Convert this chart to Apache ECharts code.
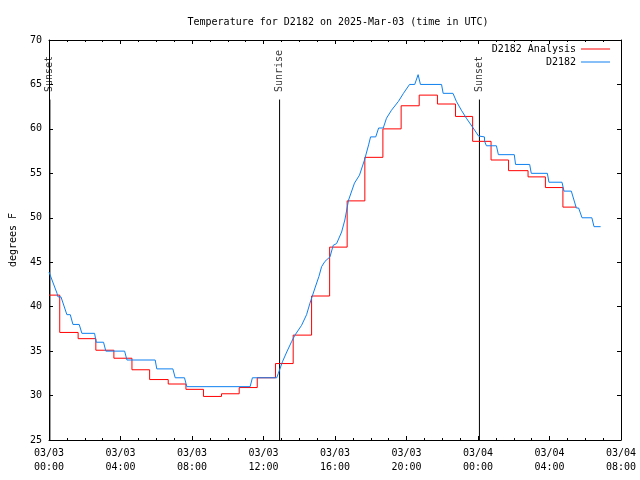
<!DOCTYPE html>
<html><head><meta charset="utf-8">
<script src="https://cdn.jsdelivr.net/npm/echarts@6/dist/echarts.min.js"></script>
<style>html,body{margin:0;padding:0;background:#fff}#c{width:640px;height:480px}</style>
</head><body><div id="c"></div>
<script>
const titleText = 'Temperature for D2182 on 2025-Mar-03 (time in UTC)';
const xTickLabels = ['03/03\n00:00','03/03\n04:00','03/03\n08:00','03/03\n12:00','03/03\n16:00','03/03\n20:00','03/04\n00:00','03/04\n04:00','03/04\n08:00'];
const yAxisName = 'degrees F';

// hours since 2025-03-03 00:00 UTC; analysis value holds until next change
const analysisHours = [0, 0.6, 1.63, 2.62, 3.63, 4.64, 5.63, 6.67, 7.66, 8.64, 9.65, 10.64, 11.65, 12.67, 13.66, 14.69, 15.7, 16.68, 17.67, 18.68, 19.7, 20.71, 21.73, 22.74, 23.7, 24.73, 25.71, 26.8, 27.77, 28.75, 29.5];
const analysisTemps = [41.3, 37.1, 36.4, 35.1, 34.2, 32.9, 31.8, 31.3, 30.7, 29.9, 30.2, 30.9, 32.0, 33.6, 36.8, 41.2, 46.7, 51.9, 56.8, 60.0, 62.6, 63.8, 62.8, 61.4, 58.6, 56.5, 55.3, 54.6, 53.4, 51.2, 51.2];

// station observations
const obsHours = [0.00, 0.45, 0.5, 0.67, 1.0, 1.19, 1.34, 1.69, 1.84, 2.55, 2.64, 3.05, 3.18, 4.23, 4.36, 5.94, 6.03, 6.93, 7.06, 7.58, 7.71, 11.25, 11.38, 12.74, 12.83, 13.06, 13.3, 13.58, 13.76, 14.13, 14.41, 14.6, 14.88, 15.1, 15.25, 15.44, 15.72, 15.9, 16.09, 16.37, 16.55, 16.76, 17.09, 17.37, 17.65, 17.88, 17.99, 18.28, 18.44, 18.7, 18.88, 19.16, 19.55, 19.83, 20.17, 20.46, 20.65, 20.78, 21.96, 22.05, 22.6, 22.79, 23.07, 23.35, 23.73, 24.03, 24.36, 24.37, 24.47, 25.03, 25.14, 26.03, 26.1, 26.89, 26.98, 27.88, 27.97, 28.7, 28.81, 29.22, 29.5, 29.63, 29.82, 30.37, 30.49, 30.86];
const obsTemps = [43.9, 41.5, 41.1, 41.1, 39.1, 39.1, 38.0, 38.0, 37.0, 37.0, 36.0, 36.0, 35.0, 35.0, 34.0, 34.0, 33.0, 33.0, 32.0, 32.0, 31.0, 31.0, 32.0, 32.0, 32.5, 33.8, 34.9, 36.1, 36.8, 37.9, 39.1, 40.4, 42.1, 43.4, 44.5, 45.1, 45.6, 46.9, 47.1, 48.4, 49.75, 52.0, 53.9, 54.8, 56.5, 58.2, 59.1, 59.1, 60.1, 60.1, 61.2, 62.1, 63.1, 64.0, 65.0, 65.0, 66.1, 65.0, 65.0, 64.0, 64.0, 63.1, 62.1, 61.2, 60.1, 59.2, 59.1, 58.6, 58.1, 58.1, 57.1, 57.1, 56.0, 56.0, 55.0, 55.0, 54.0, 54.0, 53.0, 53.0, 51.1, 51.1, 50.0, 50.0, 49.0, 49.0];

const sunHours = [0.05, 12.9, 24.08];
const sunNames = ['Sunset', 'Sunrise', 'Sunset'];
const sunLineTop = 63.3;

const FONT = 'DejaVu Sans Mono';
const RED = '#ff0000';
const BLUE = '#0f80f0';
const chart = echarts.init(document.getElementById('c'), null, {renderer: 'canvas'});

const series = [];
sunHours.forEach((h, i) => {
  series.push({
    type: 'line', silent: true, symbol: 'none', z: 1,
    lineStyle: {color: '#000', width: 1},
    data: [[h, 25], [h, sunLineTop]]
  });
});
series.push({
  type: 'scatter', silent: true, z: 1, symbolSize: 1,
  itemStyle: {color: 'rgba(0,0,0,0)'},
  data: sunHours.map((h, i) => ({value: [h, sunLineTop], name: sunNames[i]})),
  label: {
    show: true, formatter: p => p.name, position: 'top', distance: 7,
    rotate: 90, align: 'left', verticalAlign: 'middle',
    fontFamily: FONT, fontSize: 10, color: '#000'
  }
});
series.push({
  name: 'D2182 Analysis', type: 'line', step: 'end', symbol: 'none', z: 3,
  lineStyle: {color: RED, width: 1}, itemStyle: {color: RED},
  data: analysisHours.map((h, i) => [h, analysisTemps[i]])
});
series.push({
  name: 'D2182', type: 'line', symbol: 'none', z: 4,
  lineStyle: {color: BLUE, width: 1}, itemStyle: {color: BLUE},
  data: obsHours.map((h, i) => [h, obsTemps[i]])
});

const xBase = {
  type: 'value', min: 0, max: 32, interval: 4,
  axisLine: {show: true, onZero: false, lineStyle: {color: '#000', width: 1}},
  axisTick: {show: true, inside: true, length: 4, lineStyle: {color: '#000'}},
  minorTick: {show: true, splitNumber: 4, length: 2, lineStyle: {color: '#000'}},
  splitLine: {show: false}, minorSplitLine: {show: false}
};
const yBase = {
  type: 'value', min: 25, max: 70, interval: 5,
  axisLine: {show: true, onZero: false, lineStyle: {color: '#000', width: 1}},
  axisTick: {show: true, inside: true, length: 4, lineStyle: {color: '#000'}},
  splitLine: {show: false}
};

chart.setOption({
  animation: false,
  backgroundColor: '#fff',
  title: {
    text: titleText, left: 333, top: 12, textAlign: 'center',
    textStyle: {fontFamily: FONT, fontSize: 10, fontWeight: 'normal', color: '#000'}
  },
  legend: {
    data: [{name: 'D2182 Analysis', icon: 'rect', itemStyle: {color: RED}},
           {name: 'D2182', icon: 'rect', itemStyle: {color: BLUE}}],
    orient: 'vertical', align: 'right',
    right: 30, top: 43, padding: 0, itemWidth: 29, itemHeight: 1, itemGap: 1,
    textStyle: {fontFamily: FONT, fontSize: 10, color: '#000', lineHeight: 12}
  },
  grid: {left: 46, right: 19, top: 40, bottom: 40, containLabel: false},
  xAxis: [
    Object.assign({}, xBase, {
      position: 'bottom',
      axisLabel: {
        show: true, margin: 6, fontFamily: FONT, fontSize: 10, color: '#000', lineHeight: 14,
        formatter: v => xTickLabels[Math.round(v / 4)] || ''
      }
    }),
    Object.assign({}, xBase, {position: 'top', axisLabel: {show: false}})
  ],
  yAxis: [
    Object.assign({}, yBase, {
      position: 'left', name: yAxisName, nameLocation: 'middle', nameRotate: 90, nameGap: 31,
      nameTextStyle: {fontFamily: FONT, fontSize: 10, color: '#000'},
      axisLabel: {show: true, margin: 7, fontFamily: FONT, fontSize: 10, color: '#000'}
    }),
    Object.assign({}, yBase, {position: 'right', axisLabel: {show: false}})
  ],
  series: series
});
</script>
</body></html>
